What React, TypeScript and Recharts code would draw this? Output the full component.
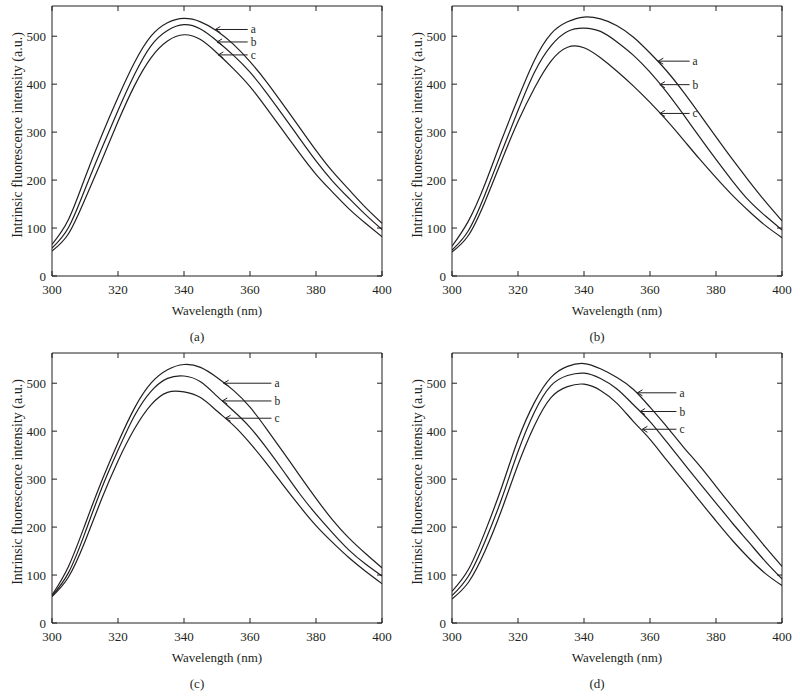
import React from 'react';
import { LineChart, Line, XAxis, YAxis, ReferenceLine, Label } from 'recharts';

const wavelengths = [300, 305, 310, 315, 320, 325, 330, 335, 340, 345, 350, 355, 360, 365, 370, 375, 380, 385, 390, 395, 400];

const panelA_a = [66, 118, 205, 292, 372, 445, 500, 528, 537, 530, 511, 483, 447, 405, 358, 310, 262, 218, 180, 143, 110];
const panelA_b = [58, 101, 181, 265, 345, 420, 480, 512, 524, 515, 490, 460, 425, 382, 335, 287, 240, 198, 162, 128, 97];
const panelA_c = [52, 88, 160, 240, 322, 397, 455, 490, 503, 493, 465, 432, 395, 350, 303, 256, 212, 175, 140, 110, 82];

const panelB_a = [62, 115, 192, 283, 370, 450, 505, 530, 540, 536, 522, 498, 465, 428, 385, 338, 290, 243, 198, 155, 115];
const panelB_b = [54, 95, 170, 258, 345, 425, 480, 510, 517, 510, 488, 460, 425, 384, 338, 290, 243, 198, 157, 125, 96];
const panelB_c = [50, 85, 155, 240, 322, 392, 448, 477, 476, 455, 427, 396, 362, 325, 285, 244, 205, 168, 135, 105, 80];

const panelC_a = [58, 118, 205, 295, 376, 448, 500, 528, 539, 533, 512, 485, 450, 405, 357, 308, 260, 215, 177, 145, 115];
const panelC_b = [56, 105, 188, 280, 360, 432, 483, 510, 515, 503, 473, 442, 408, 365, 318, 270, 227, 188, 152, 123, 98];
const panelC_c = [55, 96, 170, 258, 338, 405, 455, 481, 482, 470, 442, 412, 375, 333, 288, 244, 203, 168, 136, 108, 82];

const panelD_a = [66, 112, 190, 282, 382, 460, 512, 535, 541, 530, 512, 487, 450, 410, 368, 328, 285, 242, 200, 158, 118];
const panelD_b = [57, 98, 170, 258, 357, 440, 495, 516, 521, 510, 488, 455, 420, 378, 335, 292, 250, 208, 168, 128, 92];
const panelD_c = [50, 85, 150, 235, 330, 412, 470, 493, 498, 485, 458, 420, 383, 340, 298, 255, 213, 172, 135, 103, 78];

const curveLabels = ['a', 'b', 'c'];
const xTicks = [300, 320, 340, 360, 380, 400];
const yTicks = [0, 100, 200, 300, 400, 500];
const xDomain = [300, 400];
const yDomain = [0, 563];
const captions = ['(a)', '(b)', '(c)', '(d)'];

// annotation arrows: tip wavelength per curve, tail wavelength, intensity level per curve
const arrowTipsA = [349.5, 350.0, 350.4];
const arrowTailA = 359.3;
const arrowLevelsA = [514, 488, 461];
const arrowTipsB = [362.5, 363, 363];
const arrowTailB = 372;
const arrowLevelsB = [448, 399, 339];
const arrowTipsC = [352, 351.6, 352.6];
const arrowTailC = 366.5;
const arrowLevelsC = [500, 463, 427];
const arrowTipsD = [356.2, 357, 357.7];
const arrowTailD = 368;
const arrowLevelsD = [480, 441, 404];

const FONT = '"Liberation Serif", "DejaVu Serif", serif';
const INK = '#231f20';

const makeArrow = (text: string) => (p: any) => {
  const { x1, y1, x2, y2 } = p;
  return (
    <g>
      <line x1={x1} y1={y1} x2={x2} y2={y2} stroke={INK} strokeWidth={1} />
      <polyline
        points={`${x1 + 5},${y1 - 3} ${x1},${y1} ${x1 + 5},${y1 + 3}`}
        fill="none"
        stroke={INK}
        strokeWidth={1}
      />
      <text x={x2 + 3} y={y2} dominantBaseline="central" fontFamily={FONT} fontSize={11.5} fill={INK}>
        {text}
      </text>
    </g>
  );
};

const yAxisTitle = (props: any) => {
  const vb = props.viewBox || { x: 0, y: 6, width: 52, height: 270 };
  const cx = vb.x + 17;
  const cy = vb.y + vb.height / 2 - 6;
  return (
    <text
      x={cx}
      y={cy}
      transform={`rotate(-90 ${cx} ${cy})`}
      textAnchor="middle"
      dominantBaseline="central"
      fontFamily={FONT}
      fontSize={14}
      fill={INK}
    >
      Intrinsic fluorescence intensity (a.u.)
    </text>
  );
};

const emptyTick = () => <g />;

type PanelProps = {
  series: number[][];
  tips: number[];
  tail: number;
  levels: number[];
  caption: string;
  left: number;
  top: number;
};

function Panel({ series, tips, tail, levels, caption, left, top }: PanelProps) {
  const data = wavelengths.map((w, i) => ({ w, a: series[0][i], b: series[1][i], c: series[2][i] }));
  const tickStyle = { fill: INK, fontSize: 13, fontFamily: FONT };
  return (
    <div style={{ position: 'absolute', left, top, width: 400, height: 347 }}>
      <LineChart width={400} height={330} data={data} margin={{ top: 5, right: 17, left: 0, bottom: 10 }}>
        <XAxis
          xAxisId="bottom"
          dataKey="w"
          type="number"
          domain={xDomain}
          ticks={xTicks}
          interval={0}
          allowDataOverflow
          tickSize={-5}
          tickMargin={14}
          height={44}
          stroke={INK}
          tick={tickStyle}
        >
          <Label value="Wavelength (nm)" position="insideBottom" offset={5} style={{ fontSize: 13, fontFamily: FONT, fill: INK }} />
        </XAxis>
        <XAxis
          xAxisId="top"
          orientation="top"
          dataKey="w"
          type="number"
          domain={xDomain}
          ticks={xTicks}
          interval={0}
          allowDataOverflow
          tickSize={-5}
          height={1}
          stroke={INK}
          tick={emptyTick}
        />
        <YAxis
          yAxisId="left"
          type="number"
          domain={yDomain}
          ticks={yTicks}
          interval={0}
          allowDataOverflow
          tickSize={-5}
          tickMargin={11}
          width={52}
          stroke={INK}
          tick={tickStyle}
        >
          <Label content={yAxisTitle} />
        </YAxis>
        <YAxis
          yAxisId="right"
          orientation="right"
          type="number"
          domain={yDomain}
          ticks={yTicks}
          interval={0}
          allowDataOverflow
          tickSize={-5}
          width={1}
          stroke={INK}
          tick={emptyTick}
        />
        {curveLabels.map((k) => (
          <Line
            key={k}
            xAxisId="bottom"
            yAxisId="left"
            type="natural"
            dataKey={k}
            stroke={INK}
            strokeWidth={1.2}
            dot={false}
            activeDot={false}
            isAnimationActive={false}
          />
        ))}
        {curveLabels.map((k, i) => (
          <ReferenceLine
            key={'arr' + k}
            xAxisId="bottom"
            yAxisId="left"
            segment={[
              { x: tips[i], y: levels[i] },
              { x: tail, y: levels[i] },
            ]}
            shape={makeArrow(k)}
          />
        ))}
      </LineChart>
      <div
        style={{
          position: 'absolute',
          left: 0,
          top: 330,
          width: 394,
          textAlign: 'center',
          fontFamily: FONT,
          fontSize: 13,
          lineHeight: '14px',
          color: INK,
        }}
      >
        {caption}
      </div>
    </div>
  );
}

export default function App() {
  return (
    <div style={{ position: 'absolute', left: 0, top: 0, width: 800, height: 696, background: '#fff' }}>
      <Panel series={[panelA_a, panelA_b, panelA_c]} tips={arrowTipsA} tail={arrowTailA} levels={arrowLevelsA} caption={captions[0]} left={0} top={0} />
      <Panel series={[panelB_a, panelB_b, panelB_c]} tips={arrowTipsB} tail={arrowTailB} levels={arrowLevelsB} caption={captions[1]} left={400} top={0} />
      <Panel series={[panelC_a, panelC_b, panelC_c]} tips={arrowTipsC} tail={arrowTailC} levels={arrowLevelsC} caption={captions[2]} left={0} top={347} />
      <Panel series={[panelD_a, panelD_b, panelD_c]} tips={arrowTipsD} tail={arrowTailD} levels={arrowLevelsD} caption={captions[3]} left={400} top={347} />
    </div>
  );
}
